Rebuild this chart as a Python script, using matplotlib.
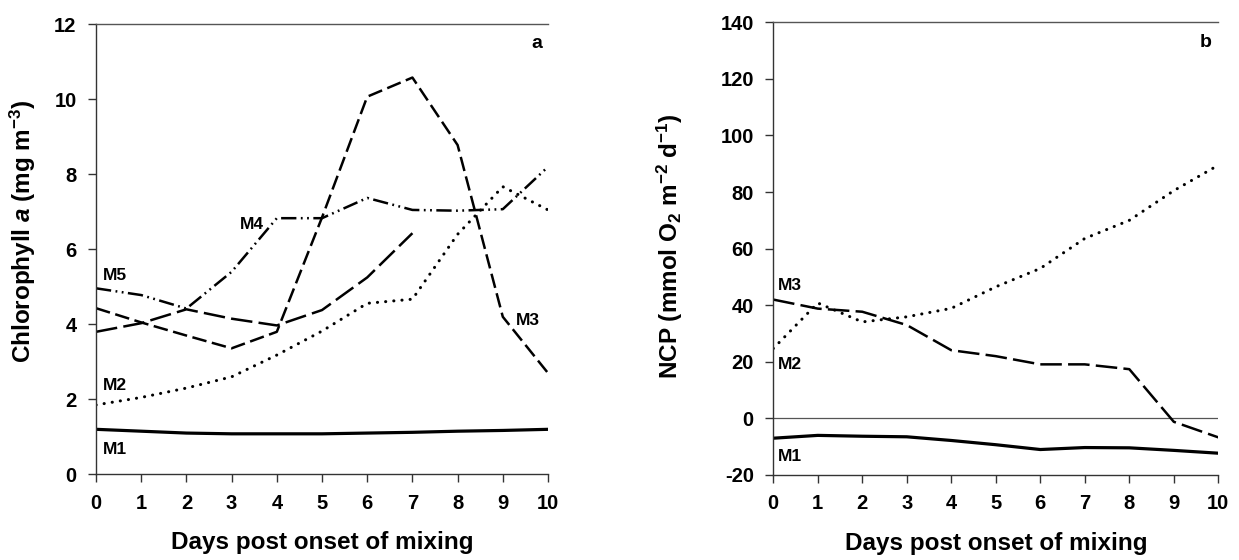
import matplotlib
matplotlib.use("Agg")
import matplotlib.pyplot as plt

# ---------------- data ----------------
days = [0, 1, 2, 3, 4, 5, 6, 7, 8, 9, 10]
days_m4 = [0, 1, 2, 3, 4, 5, 6, 7]

chl_m1 = [1.20, 1.15, 1.10, 1.08, 1.08, 1.08, 1.10, 1.12, 1.15, 1.17, 1.20]
chl_m2 = [1.85, 2.05, 2.30, 2.60, 3.18, 3.82, 4.56, 4.67, 6.40, 7.67, 7.05]
chl_m3 = [4.43, 4.05, 3.70, 3.36, 3.80, 6.85, 10.07, 10.58, 8.78, 4.20, 2.70]
chl_m4 = [3.80, 4.03, 4.40, 4.15, 3.97, 4.38, 5.25, 6.43]
chl_m5 = [4.96, 4.78, 4.42, 5.40, 6.83, 6.83, 7.37, 7.05, 7.03, 7.07, 8.20]

ncp_m1 = [-7.0, -6.0, -6.3, -6.5, -7.8, -9.3, -11.0, -10.3, -10.4, -11.3, -12.3]
ncp_m2 = [24.7, 40.8, 34.1, 35.9, 38.9, 46.5, 53.0, 63.6, 70.0, 80.5, 89.5]
ncp_m3 = [42.0, 38.8, 37.7, 33.0, 24.1, 22.0, 19.1, 19.1, 17.4, -1.2, -6.7]

xticks = list(range(0, 11))
yticks_a = [0, 2, 4, 6, 8, 10, 12]
yticks_b = [-20, 0, 20, 40, 60, 80, 100, 120, 140]

# ---------------- style ----------------
plt.rcParams['font.family'] = ['Liberation Sans', 'DejaVu Sans']
plt.rcParams['font.weight'] = 'bold'
plt.rcParams['mathtext.fontset'] = 'custom'
plt.rcParams['mathtext.rm'] = 'Liberation Sans:bold'
plt.rcParams['mathtext.it'] = 'Liberation Sans:bold:italic'
plt.rcParams['mathtext.bf'] = 'Liberation Sans:bold'
plt.rcParams['mathtext.default'] = 'rm'
plt.rcParams['lines.scale_dashes'] = False
plt.rcParams['axes.unicode_minus'] = False

fig = plt.figure(figsize=(12.39, 5.60), dpi=100)
ax_a = fig.add_axes([0.0775, 0.153, 0.3648, 0.8036])
ax_b = fig.add_axes([0.6241, 0.1518, 0.3592, 0.8084])

lw = 1.8
solid = dict(color='black', lw=2.3, linestyle='-')
dotted = dict(color='black', lw=lw + 0.4, linestyle=(0, (0.1, 5.8)), dash_capstyle='round')
shortdash = dict(color='black', lw=lw, linestyle=(0, (10.5, 4.0)))
longdash = dict(color='black', lw=lw, linestyle=(0, (15.5, 4.5)))
dashdotdot = dict(color='black', lw=lw, linestyle=(0, (11, 3.2, 1.3, 3.2, 1.3, 3.2)))

label_fs = 17.5


def style_axes(ax, ylim, yticks):
    ax.set_xlim(0, 10)
    ax.set_ylim(*ylim)
    ax.set_xticks(xticks)
    ax.set_yticks(yticks)
    ax.tick_params(axis='both', direction='out', length=6, width=1.0,
                   labelsize=14.5, pad=8, color='#333333')
    ax.tick_params(top=False, right=False)
    for lab in ax.get_xticklabels() + ax.get_yticklabels():
        lab.set_fontweight('bold')
    for s in ['left', 'bottom']:
        ax.spines[s].set_linewidth(1.0)
        ax.spines[s].set_color('#333333')
    ax.spines['top'].set_linewidth(1.0)
    ax.spines['top'].set_color('#555555')
    ax.spines['right'].set_visible(False)
    ax.set_xlabel('Days post onset of mixing', fontsize=label_fs, fontweight='bold')
    ax.xaxis.set_label_coords(0.5, -0.127)


# ---------------- panel a ----------------
ax_a.plot(days, chl_m1, **solid)
ax_a.plot(days, chl_m2, **dotted)
ax_a.plot(days, chl_m3, **shortdash)
ax_a.plot(days_m4, chl_m4, **longdash)
ax_a.plot(days, chl_m5, **dashdotdot)
style_axes(ax_a, (0, 12), yticks_a)
ax_a.set_ylabel(r'Chlorophyll $\mathit{a}$ (mg m$^{-3}$)', fontsize=label_fs, fontweight='bold')
ax_a.yaxis.set_label_coords(-0.128, 0.54)

lab_kw = dict(fontsize=12.5, fontweight='bold', va='center')
ax_a.text(0.15, 5.3, 'M5', ha='left', **lab_kw)
ax_a.text(3.72, 6.65, 'M4', ha='right', **lab_kw)
ax_a.text(9.3, 4.1, 'M3', ha='left', **lab_kw)
ax_a.text(0.15, 2.38, 'M2', ha='left', **lab_kw)
ax_a.text(0.15, 0.65, 'M1', ha='left', **lab_kw)
ax_a.text(9.88, 11.5, 'a', ha='right', fontsize=14, fontweight='bold', va='center')

# ---------------- panel b ----------------
ax_b.axhline(0, color='#555555', lw=0.9)
ax_b.plot(days, ncp_m1, **solid)
ax_b.plot(days, ncp_m2, **dotted)
ax_b.plot(days, ncp_m3, **longdash)
style_axes(ax_b, (-20, 140), yticks_b)
ax_b.set_ylabel(r'NCP (mmol O$_{2}$ m$^{-2}$ d$^{-1}$)', fontsize=label_fs, fontweight='bold')
ax_b.yaxis.set_label_coords(-0.198, 0.505)

ax_b.text(0.1, 47, 'M3', ha='left', **lab_kw)
ax_b.text(0.1, 19, 'M2', ha='left', **lab_kw)
ax_b.text(0.1, -13.5, 'M1', ha='left', **lab_kw)
ax_b.text(9.85, 133, 'b', ha='right', fontsize=14, fontweight='bold', va='center')

fig.savefig('out.png', dpi=100)
